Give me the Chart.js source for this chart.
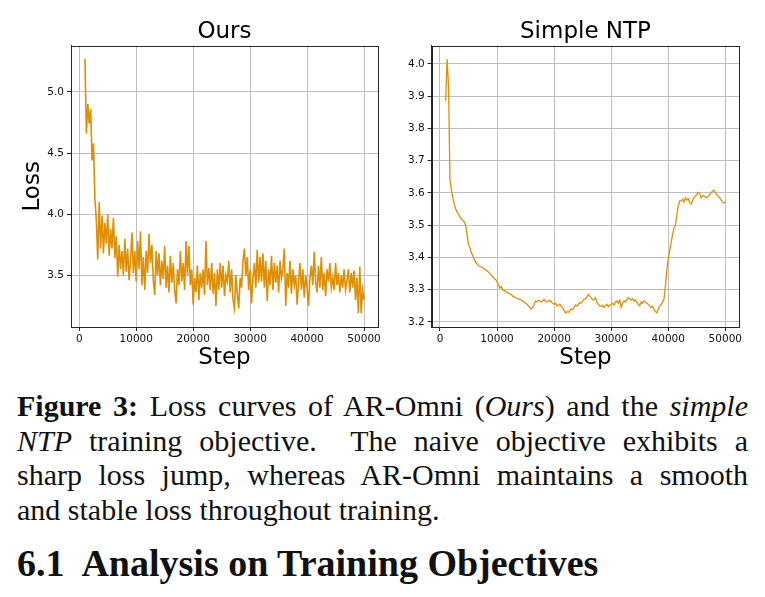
<!DOCTYPE html>
<html>
<head>
<meta charset="utf-8">
<script src="https://cdn.jsdelivr.net/npm/chart.js@4.4.1/dist/chart.umd.min.js"></script>
<style>
  html, body { margin: 0; padding: 0; background: #fff; }
  body { width: 765px; height: 597px; position: relative; overflow: hidden; }
  canvas { position: absolute; top: 0; }
  #c1 { left: 0; }
  #c2 { left: 385px; }
  .cap { position: absolute; left: 17px; top: 389px; width: 731px;
         font-family: "Liberation Serif", "DejaVu Serif", serif; font-size: 30px;
         line-height: 34.5px; color: #111; }
  .cap .ln { text-align: justify; text-align-last: justify; white-space: nowrap; }
  .cap .last { text-align: left; text-align-last: left; }
  .head { position: absolute; left: 17px; top: 542px; font-family: "Liberation Serif", "DejaVu Serif", serif;
          font-weight: bold; font-size: 38px; line-height: 42px; color: #111; white-space: pre; }
</style>
</head>
<body>
<canvas id="c1" width="385" height="375"></canvas>
<canvas id="c2" width="380" height="375"></canvas>
<div class="cap">
  <div class="ln"><b>Figure 3:</b> Loss curves of AR-Omni (<i>Ours</i>) and the <i>simple</i></div>
  <div class="ln"><i>NTP</i> training objective.&nbsp; The naive objective exhibits a</div>
  <div class="ln">sharp loss jump, whereas AR-Omni maintains a smooth</div>
  <div class="ln last">and stable loss throughout training.</div>
</div>
<div class="head">6.1  Analysis on Training Objectives</div>
<script>
// ---- data ----
const steps = [
1000,1250,1500,1750,2000,2250,2500,2750,3000,3250,3500,3750,4000,4250,4500,4750,
5000,5250,5500,5750,6000,6250,6500,6750,7000,7250,7500,7750,8000,8250,8500,8750,
9000,9250,9500,9750,10000,10250,10500,10750,11000,11250,11500,11750,12000,12250,12500,12750,
13000,13250,13500,13750,14000,14250,14500,14750,15000,15250,15500,15750,16000,16250,16500,16750,
17000,17250,17500,17750,18000,18250,18500,18750,19000,19250,19500,19750,20000,20250,20500,20750,
21000,21250,21500,21750,22000,22250,22500,22750,23000,23250,23500,23750,24000,24250,24500,24750,
25000,25250,25500,25750,26000,26250,26500,26750,27000,27250,27500,27750,28000,28250,28500,28750,
29000,29250,29500,29750,30000,30250,30500,30750,31000,31250,31500,31750,32000,32250,32500,32750,
33000,33250,33500,33750,34000,34250,34500,34750,35000,35250,35500,35750,36000,36250,36500,36750,
37000,37250,37500,37750,38000,38250,38500,38750,39000,39250,39500,39750,40000,40250,40500,40750,
41000,41250,41500,41750,42000,42250,42500,42750,43000,43250,43500,43750,44000,44250,44500,44750,
45000,45250,45500,45750,46000,46250,46500,46750,47000,47250,47500,47750,48000,48250,48500,48750,
49000,49250,49500,49750,50000];

const oursLoss = [
5.27,4.66,4.90,4.74,4.86,4.44,4.58,4.12,
3.95,3.63,4.10,3.72,3.99,3.68,3.93,3.76,
4.00,3.66,3.88,3.72,3.97,3.64,3.82,3.49,
3.75,3.55,3.70,3.50,3.80,3.53,3.72,3.46,
3.62,3.85,3.52,3.70,3.45,3.78,3.55,3.86,
3.42,3.65,3.38,3.70,3.52,3.84,3.60,3.75,
3.46,3.34,3.70,3.50,3.68,3.42,3.62,3.47,
3.74,3.40,3.58,3.36,3.66,3.44,3.60,3.38,
3.27,3.55,3.42,3.70,3.45,3.60,3.38,3.78,
3.50,3.74,3.42,3.55,3.26,3.48,3.36,3.58,
3.30,3.52,3.40,3.55,3.34,3.78,3.42,3.56,
3.38,3.60,3.35,3.52,3.25,3.55,3.38,3.60,
3.40,3.58,3.33,3.50,3.45,3.62,3.36,3.55,
3.30,3.23,3.50,3.35,3.23,3.48,3.40,3.62,
3.72,3.50,3.65,3.38,3.55,3.27,3.48,3.60,
3.40,3.71,3.44,3.65,3.45,3.68,3.40,3.62,
3.29,3.55,3.42,3.66,3.38,3.60,3.44,3.58,
3.36,3.62,3.48,3.55,3.72,3.25,3.52,3.40,
3.62,3.35,3.55,3.42,3.50,3.26,3.45,3.60,
3.38,3.55,3.32,3.50,3.40,3.25,3.48,3.58,
3.42,3.69,3.45,3.36,3.58,3.40,3.65,3.38,
3.52,3.33,3.55,3.45,3.60,3.40,3.48,3.38,
3.60,3.42,3.52,3.36,3.50,3.40,3.55,3.38,
3.46,3.55,3.36,3.52,3.40,3.54,3.30,3.48,
3.19,3.57,3.19,3.38,3.30];

const ntpLoss = [
3.885,4.015,3.93,3.64,3.61,3.585,3.565,3.55,
3.54,3.535,3.525,3.52,3.515,3.51,3.50,3.47,
3.44,3.43,3.415,3.405,3.395,3.385,3.38,3.375,
3.372,3.37,3.368,3.365,3.362,3.358,3.355,3.35,
3.345,3.34,3.335,3.332,3.325,3.315,3.305,3.31,
3.30,3.297,3.295,3.29,3.29,3.287,3.285,3.28,
3.278,3.276,3.273,3.272,3.27,3.268,3.265,3.262,
3.258,3.255,3.25,3.245,3.24,3.245,3.255,3.265,
3.262,3.268,3.265,3.262,3.266,3.27,3.265,3.262,
3.265,3.268,3.262,3.258,3.255,3.258,3.25,3.252,
3.255,3.248,3.245,3.235,3.228,3.232,3.23,3.235,
3.24,3.238,3.245,3.252,3.25,3.255,3.26,3.258,
3.265,3.27,3.272,3.278,3.285,3.28,3.275,3.268,
3.27,3.275,3.262,3.255,3.25,3.248,3.252,3.245,
3.25,3.255,3.248,3.252,3.255,3.258,3.252,3.262,
3.265,3.258,3.268,3.245,3.258,3.265,3.262,3.27,
3.275,3.272,3.268,3.272,3.265,3.268,3.26,3.255,
3.25,3.262,3.258,3.265,3.262,3.258,3.255,3.25,
3.245,3.248,3.24,3.232,3.228,3.24,3.25,3.255,
3.262,3.27,3.31,3.36,3.395,3.42,3.445,3.47,
3.49,3.50,3.53,3.56,3.575,3.575,3.58,3.572,
3.585,3.578,3.582,3.57,3.565,3.575,3.585,3.59,
3.595,3.602,3.598,3.585,3.592,3.59,3.588,3.585,
3.59,3.595,3.60,3.605,3.608,3.60,3.595,3.59,
3.585,3.578,3.572,3.568,3.572];

const xTicks = [0, 10000, 20000, 30000, 40000, 50000];
const oursYTicks = [3.5, 4.0, 4.5, 5.0];
const ntpYTicks = [3.2, 3.3, 3.4, 3.5, 3.6, 3.7, 3.8, 3.9, 4.0];
const titles = ['Ours', 'Simple NTP'];
const xTitle = 'Step';
const yTitle = 'Loss';

// ---- styling ----
const LINE = '#DE8F05';
const FONT = 'DejaVu Sans';
const frame = {
  id: 'frame',
  afterDraw(chart) {
    const a = chart.chartArea, c = chart.ctx;
    c.save(); c.strokeStyle = '#262626'; c.lineWidth = 1;
    c.strokeRect(Math.round(a.left) + 0.5, Math.round(a.top) + 0.5,
                 Math.round(a.right) - Math.round(a.left), Math.round(a.bottom) - Math.round(a.top));
    c.restore();
  }
};

function makeChart(id, title, values, yTicks, yMin, yMax, opts) {
  const pts = steps.map((s, i) => ({ x: s, y: values[i] }));
  return new Chart(document.getElementById(id), {
    type: 'line',
    data: { datasets: [{ data: pts, borderColor: LINE, borderWidth: opts.lw, pointRadius: 0, tension: 0, fill: false }] },
    options: {
      responsive: false, animation: false, devicePixelRatio: 1,
      layout: { padding: { left: opts.padL, right: opts.padR, top: 0, bottom: 2.8 } },
      plugins: {
        legend: { display: false }, tooltip: { enabled: false },
        title: { display: true, text: title, fullSize: false, color: '#000',
                 font: { family: FONT, size: 23, weight: 'normal', lineHeight: 1.2 },
                 padding: { top: 18.1, bottom: 0 } }
      },
      scales: {
        x: {
          type: 'linear', min: -1450, max: 52450,
          afterBuildTicks: s => { s.ticks = xTicks.map(v => ({ value: v })); },
          afterFit: s => { s.height = 45.2; },
          ticks: { color: '#111', font: { family: FONT, size: 10.5 }, padding: 2, maxRotation: 0, autoSkip: false,
                   callback: v => String(v) },
          grid: { color: '#b8b8b8', lineWidth: 0.9, tickLength: 4, tickColor: '#262626', tickWidth: 1 },
          border: { display: true, color: '#262626', width: 1 },
          title: { display: true, text: xTitle, color: '#000', font: { family: FONT, size: 23, lineHeight: 1.2 }, padding: 0 }
        },
        y: {
          type: 'linear', min: yMin, max: yMax,
          afterBuildTicks: s => { s.ticks = yTicks.map(v => ({ value: v })); },
          afterFit: s => { s.width = opts.yW; },
          ticks: { color: '#111', font: { family: FONT, size: 10.5 }, padding: 3, autoSkip: false,
                   callback: v => Number(v).toFixed(1) },
          grid: { color: '#b8b8b8', lineWidth: 0.9, tickLength: 4, tickColor: '#262626', tickWidth: 1 },
          border: { display: true, color: '#262626', width: 1 },
          title: { display: opts.yTitle, text: yTitle, color: '#000', font: { family: FONT, size: 23, lineHeight: 1.2 }, padding: 0 }
        }
      }
    },
    plugins: [frame]
  });
}

makeChart('c1', titles[0], oursLoss, oursYTicks, 3.078, 5.378, { padL: 18.8, padR: 7, yW: 52.2, yTitle: true, lw: 1.6 });
makeChart('c2', titles[1], ntpLoss, ntpYTicks, 3.1845, 4.056, { padL: 0, padR: 25.7, yW: 46.7, yTitle: false, lw: 1.3 });
</script>
</body>
</html>
